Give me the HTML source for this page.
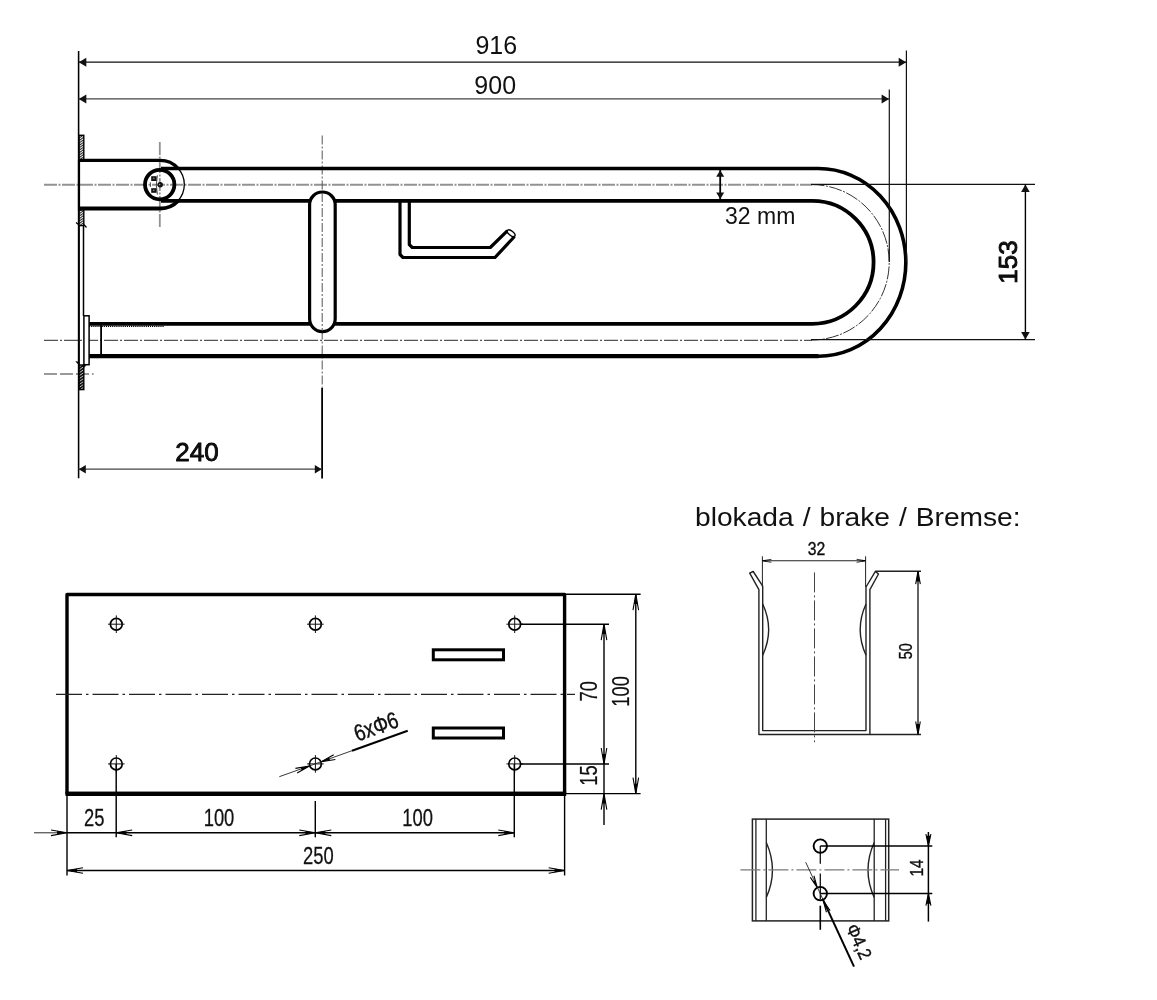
<!DOCTYPE html>
<html><head><meta charset="utf-8"><title>Drawing</title>
<style>
html,body{margin:0;padding:0;background:#fff;}
body{width:1157px;height:1000px;overflow:hidden;}
svg{display:block;filter:grayscale(1);}
svg text{font-family:"Liberation Sans","DejaVu Sans",sans-serif;}
</style></head><body>
<svg width="1157" height="1000" viewBox="0 0 1157 1000">
<rect width="1157" height="1000" fill="#fff"/>
<line x1="44.00" y1="184.70" x2="812.00" y2="184.70" stroke="#929292" stroke-width="1.9" stroke-dasharray="13 1.5 2 1.5"/>
<line x1="44.00" y1="340.30" x2="812.00" y2="340.30" stroke="#555" stroke-width="1.3" stroke-dasharray="14 2 2 2"/>
<line x1="159.80" y1="142.00" x2="159.80" y2="227.50" stroke="#929292" stroke-width="1.8" stroke-dasharray="13 1.5 2 1.5"/>
<line x1="322.20" y1="135.50" x2="322.20" y2="388.00" stroke="#555" stroke-width="1.0" stroke-dasharray="9 2 2 2"/>
<line x1="44.00" y1="374.00" x2="93.60" y2="374.00" stroke="#7a7a7a" stroke-width="1.5" stroke-dasharray="13 3"/>
<path d="M811.5,184.6 A77.7,77.7 0 0 1 811.5,340" stroke="#333" stroke-width="1.0" fill="none" stroke-dasharray="13 1.5 2 1.5"/>
<path d="M161,168.5 H818.5 A87.3,93.8 0 0 1 818.5,356.2 H89" stroke="#000" stroke-width="3.6" fill="none" />
<line x1="89.00" y1="356.10" x2="818.50" y2="356.10" stroke="#000" stroke-width="4.2" />
<path d="M161,200.8 H812.4 A61.2,61.5 0 0 1 812.4,323.8 H89" stroke="#000" stroke-width="3.8" fill="none" />
<path d="M79,160.4 H160.2 A24.1,24.1 0 0 1 178,168.3" stroke="#000" stroke-width="3.3" fill="none" />
<path d="M79,208.5 H160.2 A24.1,24.1 0 0 0 178,201" stroke="#000" stroke-width="3.8" fill="none" />
<path d="M177.5,167.8 A24.1,24.1 0 0 1 177.5,201.4" stroke="#000" stroke-width="1.3" fill="none" />
<circle cx="159.7" cy="184.6" r="14.7" fill="none" stroke="#000" stroke-width="3.8"/>
<rect x="151.2" y="176.2" width="5.4" height="4.8" fill="#111"/>
<rect x="151.2" y="188.2" width="5.4" height="4.6" fill="#111"/>
<rect x="152.9" y="177.7" width="1.6" height="1.4" fill="#777"/>
<rect x="152.9" y="189.6" width="1.6" height="1.4" fill="#777"/>
<circle cx="160.2" cy="184.8" r="2.7" fill="#111"/>
<circle cx="159.6" cy="184.6" r="0.8" fill="#999"/>
<path d="M157.4,175.3 Q155.2,184.8 157.4,194.6" stroke="#222" stroke-width="0.8" fill="none" />
<line x1="150.40" y1="182.30" x2="150.40" y2="187.00" stroke="#333" stroke-width="0.8" />
<defs><pattern id="hatch" width="2" height="2" patternUnits="userSpaceOnUse" patternTransform="rotate(-35)"><rect width="2" height="2" fill="#fff"/><rect width="2" height="1.05" fill="#222"/></pattern></defs>
<defs><pattern id="hatch2" width="2" height="2.4" patternUnits="userSpaceOnUse" patternTransform="rotate(-35)"><rect width="2" height="2.4" fill="#111"/><rect width="2" height="0.7" fill="#ddd"/></pattern></defs>
<rect x="79" y="135.3" width="4.8" height="24.19999999999999" fill="url(#hatch)" stroke="#000" stroke-width="1.4"/>
<rect x="79" y="210" width="4.8" height="15.599999999999994" fill="url(#hatch)" stroke="#000" stroke-width="1.4"/>
<rect x="79" y="365" width="4.8" height="24.600000000000023" fill="url(#hatch2)" stroke="#000" stroke-width="1.4"/>
<path d="M75.8,361.6 L78.6,362 L78.6,364.4 Z M82.5,365 L86,365.2 L84,367.6 Z" stroke="#000" stroke-width="0.5" fill="#000" />
<path d="M76,222.5 L78.5,224.5 M83.8,224.5 L86.5,227.5" stroke="#000" stroke-width="1.2" fill="none" />
<line x1="78.60" y1="51.00" x2="78.60" y2="478.30" stroke="#000" stroke-width="1.55" />
<line x1="79.00" y1="160.00" x2="79.00" y2="210.00" stroke="#000" stroke-width="2.2" />
<line x1="83.50" y1="225.00" x2="83.50" y2="316.00" stroke="#000" stroke-width="1.5" />
<line x1="79.00" y1="225.00" x2="79.00" y2="365.00" stroke="#000" stroke-width="1.7" />
<rect x="83.9" y="315.8" width="5.2" height="48.9" fill="#fff" stroke="#000" stroke-width="1.5"/>
<line x1="101.10" y1="323.60" x2="101.10" y2="356.00" stroke="#000" stroke-width="1.8" />
<line x1="89.00" y1="326.40" x2="163.70" y2="326.40" stroke="#000" stroke-width="1.4" stroke-dasharray="1.2 0.9"/>
<rect x="309.6" y="192" width="25.6" height="139.6" rx="12.8" ry="12.8" fill="#fff" stroke="#000" stroke-width="3.2"/>
<line x1="322.20" y1="193.00" x2="322.20" y2="331.00" stroke="#555" stroke-width="1.0" stroke-dasharray="9 2 2 2"/>
<line x1="322.10" y1="388.00" x2="322.10" y2="478.50" stroke="#000" stroke-width="1.8" />
<path d="M400,201 V254.5 L403,257.5 H495 L514.5,236.5" stroke="#000" stroke-width="3.2" fill="none" stroke-linejoin="round"/>
<path d="M409.3,201 V244.6 L412.3,247.5 H490.3 L507.5,230.6" stroke="#000" stroke-width="3.2" fill="none" stroke-linejoin="round"/>
<ellipse cx="511.2" cy="233.2" rx="4.6" ry="2.2" transform="rotate(38 511.2 233.2)" fill="#fff" stroke="#000" stroke-width="1.4"/>
<line x1="906.40" y1="50.50" x2="906.40" y2="262.00" stroke="#111" stroke-width="1.2" />
<line x1="889.30" y1="89.50" x2="889.30" y2="262.00" stroke="#111" stroke-width="1.2" />
<line x1="78.50" y1="62.20" x2="906.40" y2="62.20" stroke="#111" stroke-width="1.2" />
<line x1="78.50" y1="98.90" x2="889.30" y2="98.90" stroke="#444" stroke-width="1.3" />
<polygon points="78.80,62.20 86.30,57.70 86.30,66.70" fill="#111"/>
<polygon points="906.20,62.20 898.70,66.70 898.70,57.70" fill="#111"/>
<polygon points="78.80,98.90 86.30,94.40 86.30,103.40" fill="#111"/>
<polygon points="889.10,98.90 881.60,103.40 881.60,94.40" fill="#111"/>
<text transform="translate(496.30,53.60)" font-size="25" font-weight="normal" text-anchor="middle" fill="#111" >916</text>
<text transform="translate(495.20,93.50)" font-size="25" font-weight="normal" text-anchor="middle" fill="#111" >900</text>
<line x1="811.00" y1="184.40" x2="1035.00" y2="184.40" stroke="#111" stroke-width="1.2" />
<line x1="811.00" y1="339.70" x2="1035.00" y2="339.70" stroke="#111" stroke-width="1.2" />
<line x1="1025.40" y1="184.40" x2="1025.40" y2="339.70" stroke="#000" stroke-width="1.4" />
<polygon points="1025.40,184.60 1029.70,192.10 1021.10,192.10" fill="#111"/>
<polygon points="1025.40,339.50 1021.10,332.00 1029.70,332.00" fill="#111"/>
<text transform="translate(1016.80,262.00) rotate(-90)" font-size="26" font-weight="normal" text-anchor="middle" fill="#111" stroke="#000" stroke-width="0.85">153</text>
<line x1="720.20" y1="170.00" x2="720.20" y2="199.00" stroke="#000" stroke-width="1.8" />
<polygon points="720.20,170.20 724.20,176.70 716.20,176.70" fill="#111"/>
<polygon points="720.20,198.90 716.20,192.40 724.20,192.40" fill="#111"/>
<text transform="translate(760.20,224.00)" font-size="23" font-weight="normal" text-anchor="middle" fill="#111" >32 mm</text>
<line x1="78.50" y1="469.20" x2="322.00" y2="469.20" stroke="#444" stroke-width="1.3" />
<polygon points="78.80,469.20 85.80,464.95 85.80,473.45" fill="#111"/>
<polygon points="321.80,469.20 314.80,473.45 314.80,464.95" fill="#111"/>
<text transform="translate(197.00,461.20)" font-size="26" font-weight="normal" text-anchor="middle" fill="#111" stroke="#000" stroke-width="0.85">240</text>
<rect x="67" y="594.5" width="497.6" height="199" fill="none" stroke="#000" stroke-width="3.4" stroke-linejoin="round"/>
<line x1="65.50" y1="793.80" x2="566.20" y2="793.80" stroke="#000" stroke-width="4.2" />
<line x1="56.00" y1="694.40" x2="575.00" y2="694.40" stroke="#222" stroke-width="1.1" stroke-dasharray="26 4 2.5 4"/>
<circle cx="116.3" cy="624.2" r="5.9" fill="none" stroke="#000" stroke-width="1.7"/>
<line x1="108.00" y1="624.20" x2="124.60" y2="624.20" stroke="#111" stroke-width="1.0" />
<line x1="116.30" y1="615.40" x2="116.30" y2="633.00" stroke="#111" stroke-width="1.0" />
<circle cx="116.3" cy="763.9" r="5.9" fill="none" stroke="#000" stroke-width="1.7"/>
<line x1="108.00" y1="763.90" x2="124.60" y2="763.90" stroke="#111" stroke-width="1.0" />
<line x1="116.30" y1="755.10" x2="116.30" y2="772.70" stroke="#111" stroke-width="1.0" />
<circle cx="315.4" cy="624.2" r="5.9" fill="none" stroke="#000" stroke-width="1.7"/>
<line x1="307.10" y1="624.20" x2="323.70" y2="624.20" stroke="#111" stroke-width="1.0" />
<line x1="315.40" y1="615.40" x2="315.40" y2="633.00" stroke="#111" stroke-width="1.0" />
<circle cx="315.4" cy="763.9" r="5.9" fill="none" stroke="#000" stroke-width="1.7"/>
<line x1="307.10" y1="763.90" x2="323.70" y2="763.90" stroke="#111" stroke-width="1.0" />
<line x1="315.40" y1="755.10" x2="315.40" y2="772.70" stroke="#111" stroke-width="1.0" />
<circle cx="514.7" cy="624.2" r="5.9" fill="none" stroke="#000" stroke-width="1.7"/>
<line x1="506.40" y1="624.20" x2="523.00" y2="624.20" stroke="#111" stroke-width="1.0" />
<line x1="514.70" y1="615.40" x2="514.70" y2="633.00" stroke="#111" stroke-width="1.0" />
<circle cx="514.7" cy="763.9" r="5.9" fill="none" stroke="#000" stroke-width="1.7"/>
<line x1="506.40" y1="763.90" x2="523.00" y2="763.90" stroke="#111" stroke-width="1.0" />
<line x1="514.70" y1="755.10" x2="514.70" y2="772.70" stroke="#111" stroke-width="1.0" />
<rect x="433.3" y="649.8" width="70.2" height="10" fill="#fff" stroke="#000" stroke-width="3"/>
<rect x="433.3" y="728" width="70.2" height="10" fill="#fff" stroke="#000" stroke-width="3"/>
<line x1="67.00" y1="794.00" x2="67.00" y2="875.50" stroke="#000" stroke-width="1.4" />
<line x1="116.20" y1="764.00" x2="116.20" y2="837.30" stroke="#000" stroke-width="1.45" />
<line x1="315.30" y1="801.00" x2="315.30" y2="837.30" stroke="#000" stroke-width="1.45" />
<line x1="514.30" y1="764.00" x2="514.30" y2="837.30" stroke="#000" stroke-width="1.45" />
<line x1="564.60" y1="794.00" x2="564.60" y2="875.50" stroke="#000" stroke-width="1.4" />
<line x1="34.00" y1="832.80" x2="67.00" y2="832.80" stroke="#111" stroke-width="0.9" />
<line x1="67.00" y1="832.80" x2="514.30" y2="832.80" stroke="#000" stroke-width="1.4" />
<line x1="67.00" y1="870.50" x2="564.60" y2="870.50" stroke="#000" stroke-width="1.4" />
<path d="M51.00,835.60 L67.00,832.80 L51.00,830.00" fill="none" stroke="#000" stroke-width="1.1" stroke-linejoin="miter"/>
<polygon points="67.00,832.80 57.08,834.54 57.08,831.06" fill="#000"/>
<path d="M132.20,830.00 L116.20,832.80 L132.20,835.60" fill="none" stroke="#000" stroke-width="1.1" stroke-linejoin="miter"/>
<polygon points="116.20,832.80 126.12,831.06 126.12,834.54" fill="#000"/>
<path d="M299.30,835.60 L315.30,832.80 L299.30,830.00" fill="none" stroke="#000" stroke-width="1.1" stroke-linejoin="miter"/>
<polygon points="315.30,832.80 305.38,834.54 305.38,831.06" fill="#000"/>
<path d="M331.30,830.00 L315.30,832.80 L331.30,835.60" fill="none" stroke="#000" stroke-width="1.1" stroke-linejoin="miter"/>
<polygon points="315.30,832.80 325.22,831.06 325.22,834.54" fill="#000"/>
<path d="M498.30,835.60 L514.30,832.80 L498.30,830.00" fill="none" stroke="#000" stroke-width="1.1" stroke-linejoin="miter"/>
<polygon points="514.30,832.80 504.38,834.54 504.38,831.06" fill="#000"/>
<path d="M83.00,867.70 L67.00,870.50 L83.00,873.30" fill="none" stroke="#000" stroke-width="1.1" stroke-linejoin="miter"/>
<polygon points="67.00,870.50 76.92,868.76 76.92,872.24" fill="#000"/>
<path d="M548.60,873.30 L564.60,870.50 L548.60,867.70" fill="none" stroke="#000" stroke-width="1.1" stroke-linejoin="miter"/>
<polygon points="564.60,870.50 554.68,872.24 554.68,868.76" fill="#000"/>
<text transform="translate(94.30,826.00) scale(0.8,1)" font-size="23" font-weight="normal" text-anchor="middle" fill="#111" stroke="#111" stroke-width="0.25">25</text>
<text transform="translate(219.00,826.00) scale(0.8,1)" font-size="23" font-weight="normal" text-anchor="middle" fill="#111" stroke="#111" stroke-width="0.25">100</text>
<text transform="translate(417.60,826.00) scale(0.8,1)" font-size="23" font-weight="normal" text-anchor="middle" fill="#111" stroke="#111" stroke-width="0.25">100</text>
<text transform="translate(318.30,864.20) scale(0.8,1)" font-size="23" font-weight="normal" text-anchor="middle" fill="#111" stroke="#111" stroke-width="0.25">250</text>
<line x1="520.00" y1="624.20" x2="609.00" y2="624.20" stroke="#000" stroke-width="1.4" />
<line x1="520.00" y1="764.00" x2="609.00" y2="764.00" stroke="#000" stroke-width="1.4" />
<line x1="564.60" y1="594.20" x2="640.60" y2="594.20" stroke="#000" stroke-width="1.4" />
<line x1="564.60" y1="793.60" x2="640.60" y2="793.60" stroke="#000" stroke-width="1.4" />
<line x1="604.00" y1="624.20" x2="604.00" y2="825.00" stroke="#000" stroke-width="1.4" />
<line x1="635.80" y1="594.20" x2="635.80" y2="793.60" stroke="#000" stroke-width="1.4" />
<path d="M606.80,640.20 L604.00,624.20 L601.20,640.20" fill="none" stroke="#000" stroke-width="1.1" stroke-linejoin="miter"/>
<polygon points="604.00,624.20 605.74,634.12 602.26,634.12" fill="#000"/>
<path d="M601.20,748.00 L604.00,764.00 L606.80,748.00" fill="none" stroke="#000" stroke-width="1.1" stroke-linejoin="miter"/>
<polygon points="604.00,764.00 602.26,754.08 605.74,754.08" fill="#000"/>
<path d="M606.80,809.60 L604.00,793.60 L601.20,809.60" fill="none" stroke="#000" stroke-width="1.1" stroke-linejoin="miter"/>
<polygon points="604.00,793.60 605.74,803.52 602.26,803.52" fill="#000"/>
<path d="M638.60,610.20 L635.80,594.20 L633.00,610.20" fill="none" stroke="#000" stroke-width="1.1" stroke-linejoin="miter"/>
<polygon points="635.80,594.20 637.54,604.12 634.06,604.12" fill="#000"/>
<path d="M633.00,777.60 L635.80,793.60 L638.60,777.60" fill="none" stroke="#000" stroke-width="1.1" stroke-linejoin="miter"/>
<polygon points="635.80,793.60 634.06,783.68 637.54,783.68" fill="#000"/>
<text transform="translate(597.40,691.20) rotate(-90) scale(0.8,1)" font-size="23" font-weight="normal" text-anchor="middle" fill="#111" stroke="#111" stroke-width="0.25">70</text>
<text transform="translate(629.20,691.30) rotate(-90) scale(0.8,1)" font-size="23" font-weight="normal" text-anchor="middle" fill="#111" stroke="#111" stroke-width="0.25">100</text>
<text transform="translate(597.40,775.50) rotate(-90) scale(0.8,1)" font-size="23" font-weight="normal" text-anchor="middle" fill="#111" stroke="#111" stroke-width="0.25">15</text>
<line x1="279.30" y1="776.70" x2="352.00" y2="750.70" stroke="#222" stroke-width="0.9" />
<line x1="352.00" y1="750.70" x2="407.70" y2="730.80" stroke="#000" stroke-width="2" />
<path d="M333.67,754.71 L321.33,761.78 L335.36,759.42" fill="none" stroke="#000" stroke-width="1.1" stroke-linejoin="miter"/>
<polygon points="321.33,761.78 328.98,757.40 330.03,760.32" fill="#000"/>
<path d="M297.13,773.09 L309.47,766.02 L295.44,768.38" fill="none" stroke="#000" stroke-width="1.1" stroke-linejoin="miter"/>
<polygon points="309.47,766.02 301.82,770.40 300.77,767.48" fill="#000"/>
<text transform="translate(378.80,734.00) rotate(-19.7) scale(0.8,1)" font-size="23.5" font-weight="normal" text-anchor="middle" fill="#111" stroke="#000" stroke-width="0.4">6xΦ6</text>
<text transform="translate(695.00,526.30)" font-size="26.3" font-weight="normal" text-anchor="start" fill="#111" id="title" word-spacing="1.1" textLength="325.6" lengthAdjust="spacingAndGlyphs">blokada / brake / Bremse:</text>
<path d="M749.7,573.2 L758.9,589.6 V734.5 H869.9 V589.6 L878.5,574 L875.4,571.4 L866,587 V730.6 H762.7 V586.2 L753.2,571.5 Z" stroke="#222" stroke-width="1.4" fill="none" stroke-linejoin="round"/>
<path d="M762.7,604 Q774.6,629.5 762.7,655.3" stroke="#222" stroke-width="1.4" fill="none" />
<path d="M866,604 Q854.4,629.5 866,655.3" stroke="#222" stroke-width="1.4" fill="none" />
<line x1="814.50" y1="572.40" x2="814.50" y2="742.20" stroke="#444" stroke-width="1.0" stroke-dasharray="20 3 2 3"/>
<line x1="762.40" y1="556.30" x2="762.40" y2="587.00" stroke="#222" stroke-width="1.0" />
<line x1="865.60" y1="556.30" x2="865.60" y2="587.00" stroke="#222" stroke-width="1.0" />
<line x1="762.40" y1="560.80" x2="865.60" y2="560.80" stroke="#222" stroke-width="1.1" />
<path d="M771.40,559.30 L762.40,560.80 L771.40,562.30" fill="none" stroke="#000" stroke-width="0.8" stroke-linejoin="miter"/>
<polygon points="762.40,560.80 766.00,560.20 766.00,561.40" fill="#000"/>
<path d="M856.60,562.30 L865.60,560.80 L856.60,559.30" fill="none" stroke="#000" stroke-width="0.8" stroke-linejoin="miter"/>
<polygon points="865.60,560.80 862.00,561.40 862.00,560.20" fill="#000"/>
<text transform="translate(816.40,554.90) scale(0.9,1)" font-size="17.5" font-weight="normal" text-anchor="middle" fill="#111" stroke="#000" stroke-width="0.35">32</text>
<line x1="875.40" y1="571.20" x2="921.00" y2="571.20" stroke="#222" stroke-width="1.4" />
<line x1="869.90" y1="734.50" x2="921.00" y2="734.50" stroke="#222" stroke-width="1.4" />
<line x1="918.00" y1="571.20" x2="918.00" y2="734.50" stroke="#222" stroke-width="1.4" />
<path d="M920.30,584.20 L918.00,571.20 L915.70,584.20" fill="none" stroke="#000" stroke-width="1.1" stroke-linejoin="miter"/>
<polygon points="918.00,571.20 919.84,581.60 916.16,581.60" fill="#000"/>
<path d="M915.70,721.50 L918.00,734.50 L920.30,721.50" fill="none" stroke="#000" stroke-width="1.1" stroke-linejoin="miter"/>
<polygon points="918.00,734.50 916.16,724.10 919.84,724.10" fill="#000"/>
<text transform="translate(912.10,651.30) rotate(-90) scale(0.82,1)" font-size="17.5" font-weight="normal" text-anchor="middle" fill="#111" stroke="#000" stroke-width="0.35">50</text>
<rect x="752.4" y="819.1" width="136.3" height="101.8" fill="none" stroke="#222" stroke-width="1.5"/>
<line x1="755.90" y1="819.10" x2="755.90" y2="920.90" stroke="#222" stroke-width="1.3" />
<line x1="766.30" y1="819.10" x2="766.30" y2="920.90" stroke="#222" stroke-width="1.3" />
<line x1="874.20" y1="819.10" x2="874.20" y2="920.90" stroke="#222" stroke-width="1.3" />
<line x1="885.60" y1="819.10" x2="885.60" y2="920.90" stroke="#222" stroke-width="1.3" />
<path d="M766.3,842.5 Q778.6,870 766.3,897.5" stroke="#222" stroke-width="1.4" fill="none" />
<path d="M874.2,842.5 Q861.8,870 874.2,897.5" stroke="#222" stroke-width="1.4" fill="none" />
<line x1="740.40" y1="869.90" x2="899.00" y2="869.90" stroke="#7a7a7a" stroke-width="1.2" stroke-dasharray="20 3 2 3"/>
<line x1="820.30" y1="846.00" x2="820.30" y2="863.70" stroke="#111" stroke-width="1.3" />
<line x1="820.30" y1="873.50" x2="820.30" y2="899.00" stroke="#111" stroke-width="1.3" />
<line x1="820.30" y1="905.70" x2="820.30" y2="929.80" stroke="#000" stroke-width="1.6" />
<circle cx="820.3" cy="846.1" r="6.7" fill="none" stroke="#000" stroke-width="1.9"/>
<line x1="820.30" y1="846.10" x2="932.30" y2="846.10" stroke="#000" stroke-width="1.5" />
<circle cx="820.3" cy="893.6" r="6.7" fill="none" stroke="#000" stroke-width="1.9"/>
<line x1="820.30" y1="893.60" x2="932.30" y2="893.60" stroke="#000" stroke-width="1.5" />
<line x1="928.40" y1="832.00" x2="928.40" y2="921.60" stroke="#000" stroke-width="1.5" />
<path d="M925.90,834.00 L928.40,846.00 L930.90,834.00" fill="none" stroke="#000" stroke-width="1.1" stroke-linejoin="miter"/>
<polygon points="928.40,846.00 926.27,835.80 930.52,835.80" fill="#000"/>
<path d="M930.90,905.60 L928.40,893.60 L925.90,905.60" fill="none" stroke="#000" stroke-width="1.1" stroke-linejoin="miter"/>
<polygon points="928.40,893.60 930.52,903.80 926.27,903.80" fill="#000"/>
<text transform="translate(922.80,868.00) rotate(-90) scale(0.85,1)" font-size="18" font-weight="normal" text-anchor="middle" fill="#111" stroke="#000" stroke-width="0.35">14</text>
<line x1="805.70" y1="862.20" x2="823.00" y2="899.60" stroke="#222" stroke-width="0.9" />
<line x1="823.00" y1="899.60" x2="854.00" y2="966.60" stroke="#000" stroke-width="2" />
<path d="M810.32,877.41 L817.18,887.47 L813.95,875.73" fill="none" stroke="#000" stroke-width="1.1" stroke-linejoin="miter"/>
<polygon points="817.18,887.47 812.93,881.23 815.18,880.19" fill="#000"/>
<path d="M830.08,910.59 L823.22,900.53 L826.45,912.27" fill="none" stroke="#000" stroke-width="1.1" stroke-linejoin="miter"/>
<polygon points="823.22,900.53 827.47,906.77 825.22,907.81" fill="#000"/>
<text transform="translate(853.20,944.30) rotate(65.2) scale(0.9,1)" font-size="18.5" font-weight="normal" text-anchor="middle" fill="#111" stroke="#000" stroke-width="0.35">Φ4,2</text>
</svg>
</body></html>
